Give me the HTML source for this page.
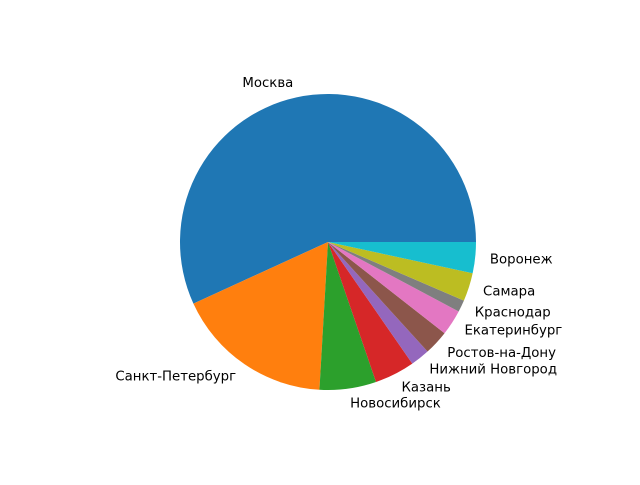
<!DOCTYPE html>
<html><head><meta charset="utf-8"><style>body{margin:0;background:#fff}svg text{font-family:"DejaVu Sans","Liberation Sans",sans-serif;font-size:13.3px;fill:#000}</style></head>
<body>
<svg id="chart" width="640" height="480" viewBox="0 0 640 480"></svg>
<script>
const categories=["Москва","Санкт-Петербург","Новосибирск","Казань","Нижний Новгород","Ростов-на-Дону","Екатеринбург","Краснодар","Самара","Воронеж"];
const values=[57.0,17.3,6.2,4.4,2.1,2.7,2.8,1.3,3.1,3.4];
const colors=["#1f77b4","#ff7f0e","#2ca02c","#d62728","#9467bd","#8c564b","#e377c2","#7f7f7f","#bcbd22","#17becf"];
const svg=document.getElementById('chart');
const NS='http://www.w3.org/2000/svg';
const cx=328,cy=242,R=148;
const total=values.reduce((a,b)=>a+b,0);
let a0=0;
values.forEach((v,i)=>{
  const a1=a0+v/total*2*Math.PI;
  const x0=cx+R*Math.cos(a0),y0=cy-R*Math.sin(a0),x1=cx+R*Math.cos(a1),y1=cy-R*Math.sin(a1);
  const p=document.createElementNS(NS,'path');
  p.setAttribute('d',`M${cx},${cy}L${x0},${y0}A${R},${R} 0 ${(a1-a0)>Math.PI?1:0} 0 ${x1},${y1}Z`);
  p.setAttribute('fill',colors[i]);
  
  
  svg.appendChild(p);
  const am=(a0+a1)/2;
  const lx=cx+1.1*R*Math.cos(am),ly=cy-1.1*R*Math.sin(am);
  const t=document.createElementNS(NS,'text');
  t.setAttribute('x',lx);t.setAttribute('y',ly);
  t.setAttribute('text-anchor',Math.cos(am)>=0?'start':'end');
  t.setAttribute('dominant-baseline','middle');
  t.textContent=categories[i];
  
  
  svg.appendChild(t);
  a0=a1;
});
</script>
</body></html>
